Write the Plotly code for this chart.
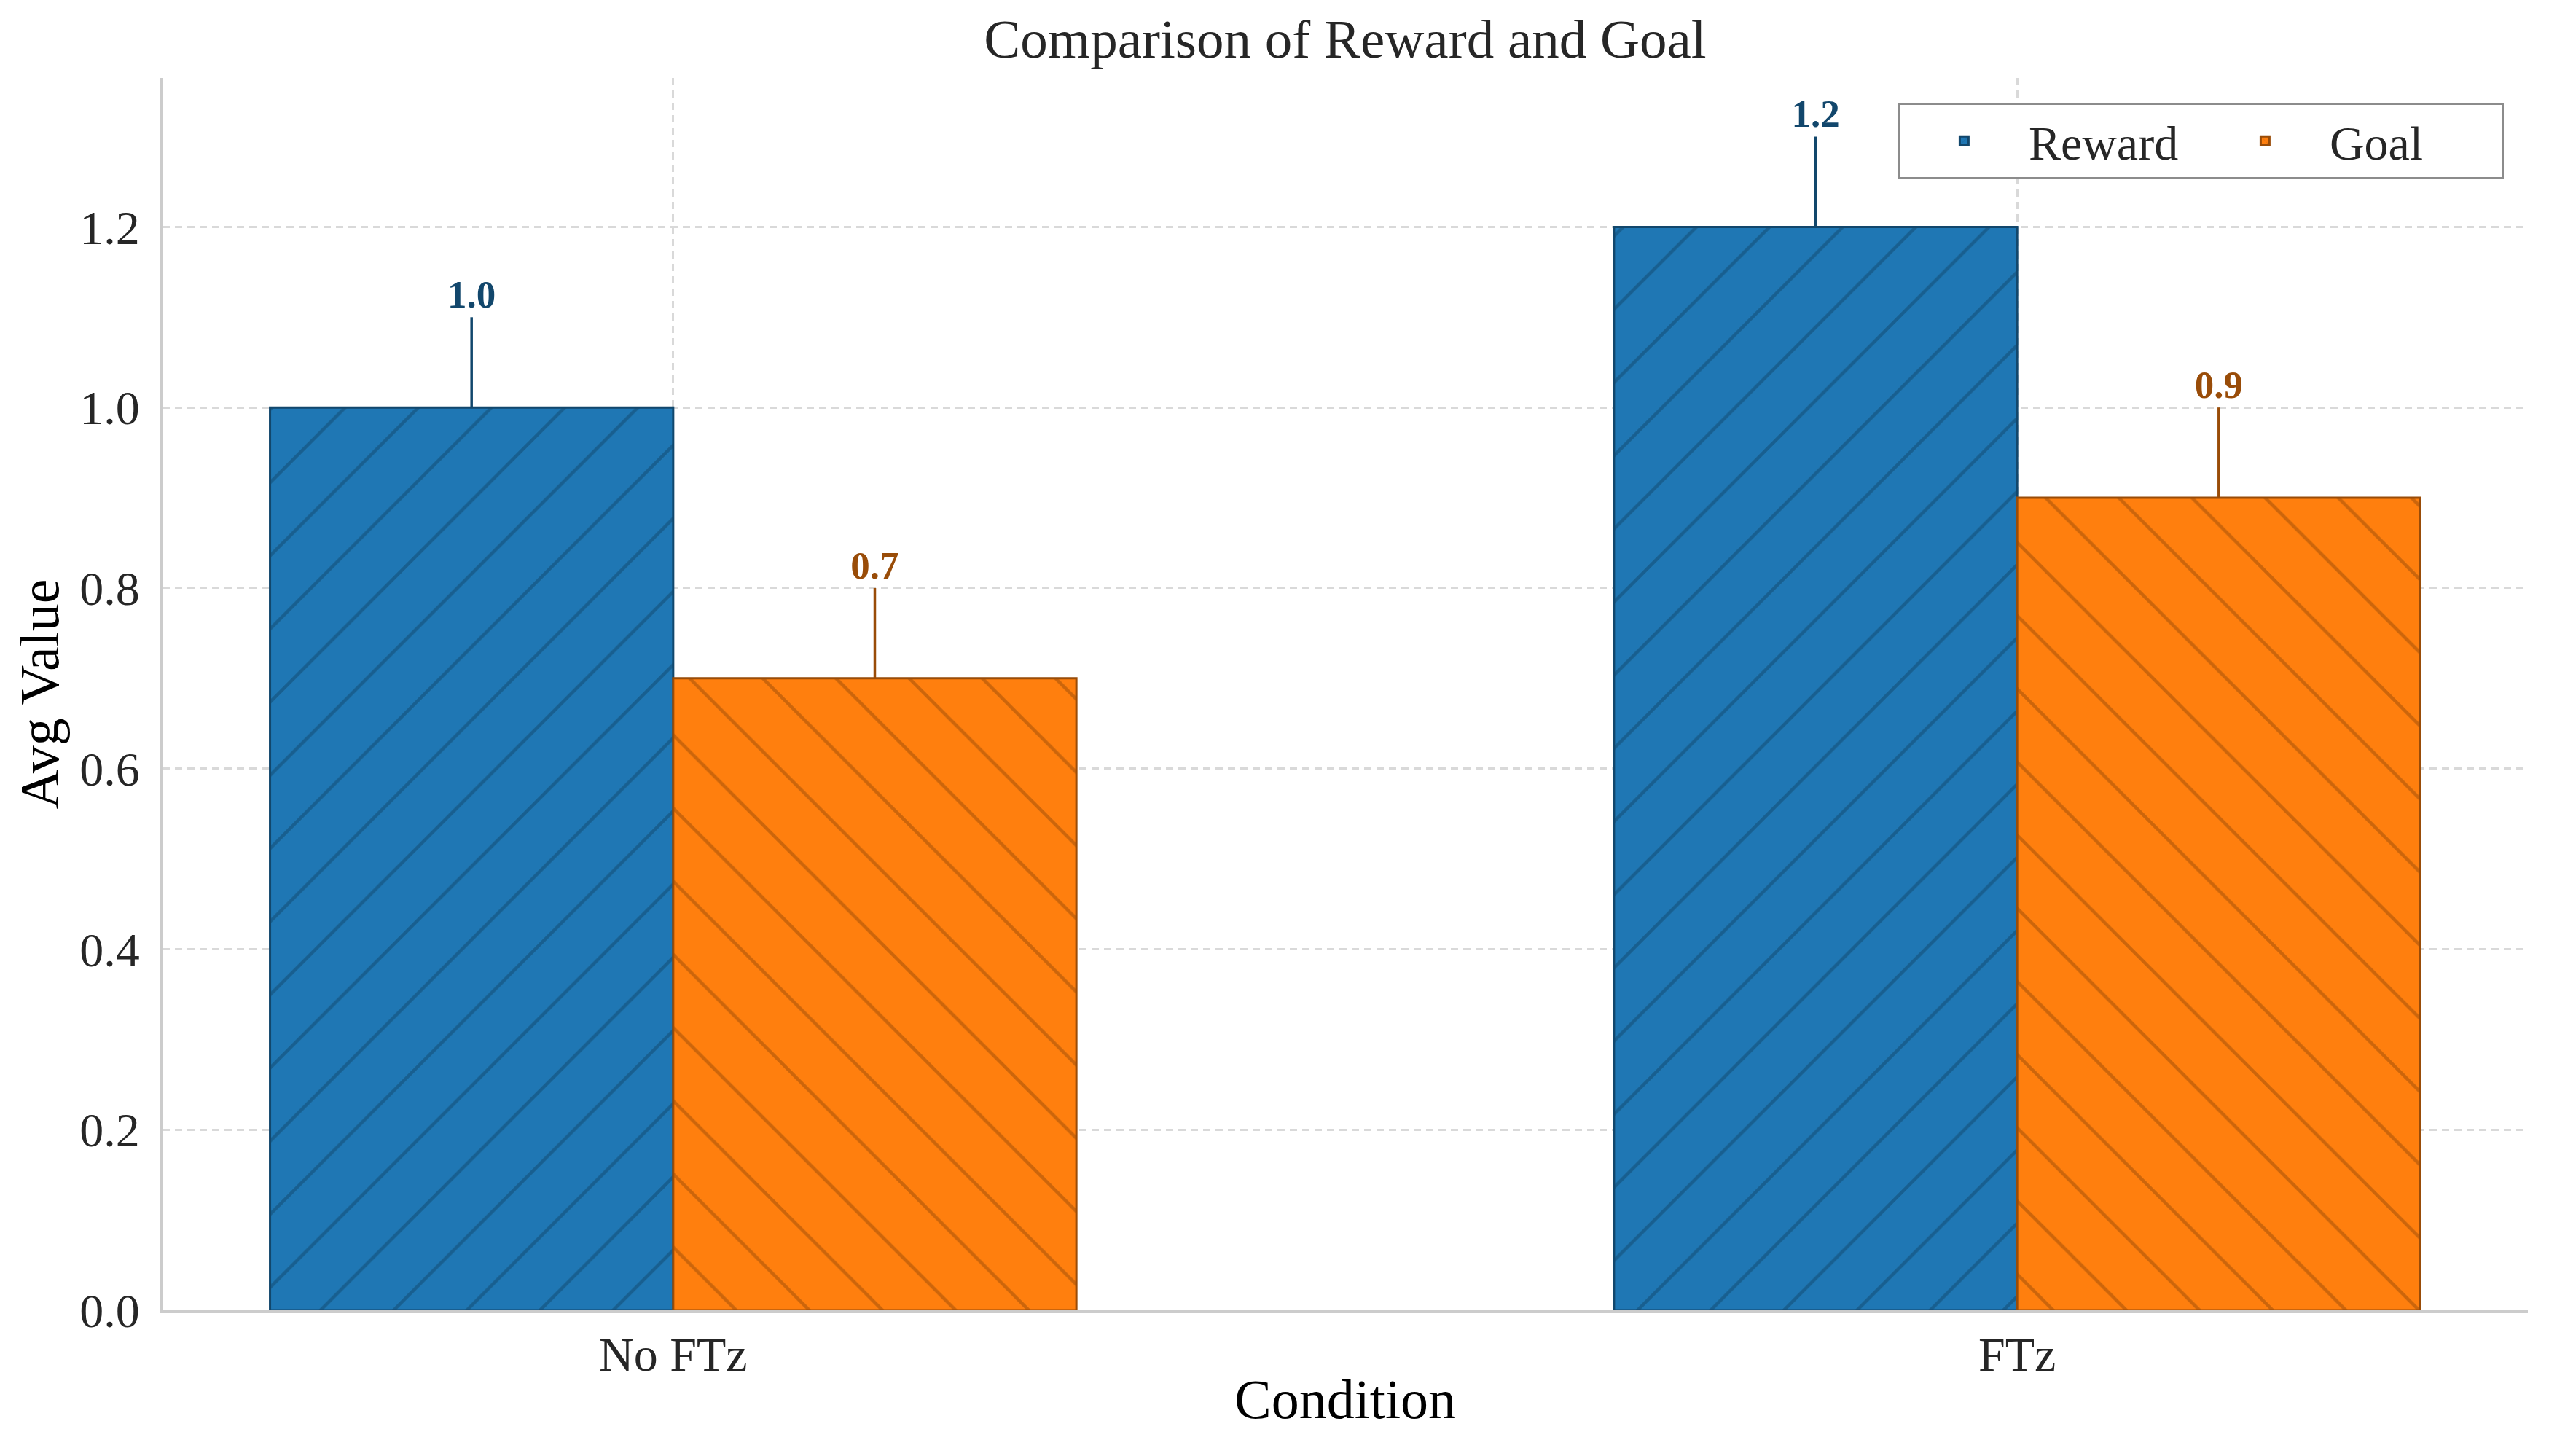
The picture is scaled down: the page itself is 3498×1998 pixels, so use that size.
import plotly.graph_objects as go

# ---- data ----
conditions = ["No FTz", "FTz"]
reward_vals = [1.0, 1.2]
reward_err = [0.1, 0.1]
goal_vals = [0.7, 0.9]
goal_err = [0.1, 0.1]
y_ticks = [0.0, 0.2, 0.4, 0.6, 0.8, 1.0, 1.2]

# ---- style ----
FONT = "Liberation Serif"
BLUE, BLUE_EDGE = "#1f77b4", "#12476c"
ORANGE, ORANGE_EDGE = "#ff7f0e", "#994c08"
TXT = "#262626"

fig = go.Figure()

series = [
    ("Reward", reward_vals, reward_err, BLUE, BLUE_EDGE, "/"),
    ("Goal", goal_vals, goal_err, ORANGE, ORANGE_EDGE, "\\"),
]

for name, vals, errs, col, edge, shape in series:
    fig.add_trace(go.Bar(
        name=name, x=conditions, y=vals, offsetgroup=name,
        marker=dict(color=col,
                    line=dict(color=edge, width=3),
                    pattern=dict(shape=shape, fgcolor=edge, bgcolor=col,
                                 fillmode="overlay", size=71, solidity=0.065)),
        error_y=dict(type="data", array=errs, arrayminus=[0] * len(errs),
                     symmetric=False, width=0, thickness=3.5, color=edge),
        hoverinfo="skip",
    ))

for name, vals, errs, col, edge, shape in series:
    tops = [v + e for v, e in zip(vals, errs)]
    fig.add_trace(go.Scatter(
        x=conditions, y=tops, offsetgroup=name, orientation="v",
        mode="text", text=[f"{v:.1f}" for v in vals],
        textposition="top center",
        textfont=dict(family=FONT, size=53, color=edge, weight="bold"),
        showlegend=False, hoverinfo="skip",
    ))

fig.update_layout(
    width=3498, height=1998,
    margin=dict(l=223, r=29, t=107, b=200),
    paper_bgcolor="white", plot_bgcolor="white",
    barmode="group", bargap=0.4, bargroupgap=0,
    scattermode="group", scattergap=0.4,
    font=dict(family=FONT, color=TXT),
    title=dict(text="Comparison of Reward and Goal", x=0.5, xref="paper",
               y=1 - 53 / 1998, yref="container", yanchor="middle",
               font=dict(family=FONT, size=75, color=TXT)),
    legend=dict(orientation="h", x=0.9898, y=0.98, xanchor="right", yanchor="top",
                bgcolor="white", bordercolor="#8c8c8c", borderwidth=3,
                font=dict(family=FONT, size=66, color=TXT),
                entrywidth=231, itemwidth=167),
    xaxis=dict(type="category", range=[-0.38, 1.38],
               showline=True, linecolor="#cccccc", linewidth=4,
               showgrid=True, gridcolor="#d9d9d9", gridwidth=2.5, griddash="10px,7px",
               ticks="", tickfont=dict(family=FONT, size=66, color=TXT),
               title=dict(text="Condition", standoff=0,
                          font=dict(family=FONT, size=76, color="black")),
               zeroline=False),
    yaxis=dict(range=[0, 1.365], tickvals=y_ticks, tickformat=".1f",
               showline=True, linecolor="#cccccc", linewidth=4,
               showgrid=True, gridcolor="#d9d9d9", gridwidth=2.5, griddash="10px,7px",
               ticks="", ticklabelstandoff=14,
               tickfont=dict(family=FONT, size=66, color=TXT),
               title=dict(text="Avg Value", standoff=5,
                          font=dict(family=FONT, size=76, color="black")),
               zeroline=False),
)

fig.write_html("out.html", config={"displayModeBar": False},
               post_script="document.body.style.margin='0';")
